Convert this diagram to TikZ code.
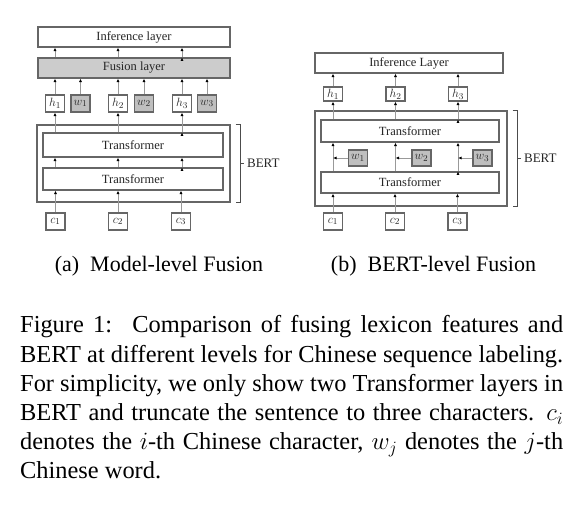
\documentclass[tikz,border=0pt]{standalone}
\usepackage{fontspec}
\setmainfont{Liberation Serif}
\usetikzlibrary{arrows.meta}

\begin{document}
\begin{tikzpicture}[x=1pt,y=-1pt,
  lay/.style={draw=black!60,line width=1.1pt,fill=white,text=black!85,inner sep=0pt,
    font=\fontsize{12.5}{14}\selectfont},
  tok/.style={lay,minimum width=19pt,minimum height=17pt},
  arr/.style={draw=black!40,line width=0.9pt,-{Latex[black,length=3.5pt,width=3pt]}},
  brk/.style={draw=black!70,line width=0.9pt}]
  \useasboundingbox (0,0) rectangle (582,518);

  % (a) model-level fusion
  \node[lay,fill=none,minimum width=193pt,minimum height=77pt] (bertA) at (133.5,163.5) {};
  \begin{scope}[every node/.style={lay,minimum width=192pt,minimum height=20pt}]
    \node (infA) at (134,37) {Inference layer};
    \node[fill=black!20] (fusA) at (134,68) {Fusion layer};
    \node[minimum width=180pt,minimum height=24pt] (tuA) at (133,145) {Transformer};
    \node[minimum width=180pt,minimum height=22pt] (tlA) at (133,179) {Transformer};
  \end{scope}

  \begin{scope}[every node/.style={tok}]
    \node (hA1) at (55,103.5) {$h_1$};
    \node[fill=black!25] (wA1) at (80.5,103.5) {$w_1$};
    \node (hA2) at (118,103.5) {$h_2$};
    \node[fill=black!25] (wA2) at (144,103.5) {$w_2$};
    \node (hA3) at (182,103.5) {$h_3$};
    \node[fill=black!25] (wA3) at (207,103.5) {$w_3$};
    \node (cA1) at (55.5,221.5) {$c_1$};
    \node (cA2) at (118,221.5) {$c_2$};
    \node (cA3) at (181,221.5) {$c_3$};
  \end{scope}

  \draw[arr] (cA1) edge (cA1 |- tlA.south) (cA2) edge (cA2 |- tlA.south) (cA3) edge (cA3 |- tlA.south);
  \draw[arr] (hA1 |- tlA.north) edge (hA1 |- tuA.south) (hA2 |- tlA.north) edge (hA2 |- tuA.south)
    (hA3 |- tlA.north) edge (hA3 |- tuA.south);
  \draw[arr] (hA1 |- tuA.north) edge (hA1) (hA2 |- tuA.north) edge (hA2) (hA3 |- tuA.north) edge (hA3);
  \draw[arr] (hA1) edge (hA1 |- fusA.south) (wA1) edge (wA1 |- fusA.south)
    (hA2) edge (hA2 |- fusA.south) (wA2) edge (wA2 |- fusA.south)
    (hA3) edge (hA3 |- fusA.south) (wA3) edge (wA3 |- fusA.south);
  \draw[arr] (hA1 |- fusA.north) edge (hA1 |- infA.south) (hA2 |- fusA.north) edge (hA2 |- infA.south)
    (hA3 |- fusA.north) edge (hA3 |- infA.south);

  \node[anchor=west,text=black!85,font=\fontsize{13}{15}\selectfont] (lblA) at ([xshift=13pt]bertA.east) {BERT};
  \draw[brk] ([xshift=5pt]bertA.north east) -| ([xshift=10pt]bertA.east) |- ([xshift=5pt]bertA.south east);
  \draw[brk] ([xshift=10pt]bertA.east) -- (lblA.west);

  % (b) BERT-level fusion
  \node[lay,fill=none,minimum width=192pt,minimum height=95pt] (bertB) at (411,158.5) {};
  \begin{scope}[every node/.style={lay,minimum width=188pt,minimum height=20pt}]
    \node (infB) at (409,63) {Inference Layer};
    \node[minimum width=178pt,minimum height=22pt] (tuB) at (410,131) {Transformer};
    \node[minimum width=178pt,minimum height=21pt] (tlB) at (410,182.5) {Transformer};
  \end{scope}

  \begin{scope}[every node/.style={tok}]
    \node[minimum height=14pt] (hB1) at (333,94) {$h_1$};
    \node[minimum height=14pt] (hB2) at (395.5,94) {$h_2$};
    \node[minimum height=14pt] (hB3) at (458,94) {$h_3$};
    \node[fill=black!25,minimum height=16pt] (wB1) at (358,158) {$w_1$};
    \node[fill=black!25,minimum height=16pt] (wB2) at (421.5,158) {$w_2$};
    \node[fill=black!25,minimum height=16pt] (wB3) at (482.5,158) {$w_3$};
    \node (cB1) at (333,221.5) {$c_1$};
    \node (cB2) at (395,221.5) {$c_2$};
    \node (cB3) at (457.5,221.5) {$c_3$};
  \end{scope}

  \draw[arr] (cB1) edge (cB1 |- tlB.south) (cB2) edge (cB2 |- tlB.south) (cB3) edge (cB3 |- tlB.south);
  \draw[arr] (hB1 |- tlB.north) edge (hB1 |- tuB.south) (hB2 |- tlB.north) edge (hB2 |- tuB.south)
    (hB3 |- tlB.north) edge (hB3 |- tuB.south);
  \draw[arr] (wB1) edge (hB1 |- wB1) (wB2) edge (hB2 |- wB2) (wB3) edge (hB3 |- wB3);
  \draw[arr] (hB1 |- tuB.north) edge (hB1) (hB2 |- tuB.north) edge (hB2) (hB3 |- tuB.north) edge (hB3);
  \draw[arr] (hB1) edge (hB1 |- infB.south) (hB2) edge (hB2 |- infB.south) (hB3) edge (hB3 |- infB.south);

  \node[anchor=west,text=black!85,font=\fontsize{13}{15}\selectfont] (lblB) at ([xshift=13pt]bertB.east) {BERT};
  \draw[brk] ([xshift=5pt]bertB.north east) -| ([xshift=10pt]bertB.east) |- ([xshift=5pt]bertB.south east);
  \draw[brk] ([xshift=10pt]bertB.east) -- (lblB.west);

  % sub-captions and caption
  \begin{scope}[every node/.style={anchor=base,inner sep=0pt,font=\fontsize{22}{26}\selectfont}]
    \node (capA) at (159,272) {(a)\hspace{0.5em}Model-level Fusion};
    \node (capB) at (433.5,272) {(b)\hspace{0.5em}BERT-level Fusion};
  \end{scope}
  \node[anchor=base west,inner sep=0pt,text width=543pt,align=left,
    font=\fontsize{24.4}{29.1}\selectfont] (cap) at (20,333) {\spaceskip=0pt\xspaceskip=0pt%
    \makebox[543pt][s]{Figure 1:\hspace{0.25em} Comparison of fusing lexicon features and}\\
    \makebox[543pt][s]{BERT at different levels for Chinese sequence labeling.}\\
    \makebox[543pt][s]{For simplicity, we only show two Transformer layers in}\\
    \makebox[543pt][s]{BERT and truncate the sentence to three characters. $c_i$}\\
    \makebox[543pt][s]{denotes the $i$-th Chinese character, $w_j$ denotes the $j$-th}\\
    Chinese word.};
\end{tikzpicture}
\end{document}
